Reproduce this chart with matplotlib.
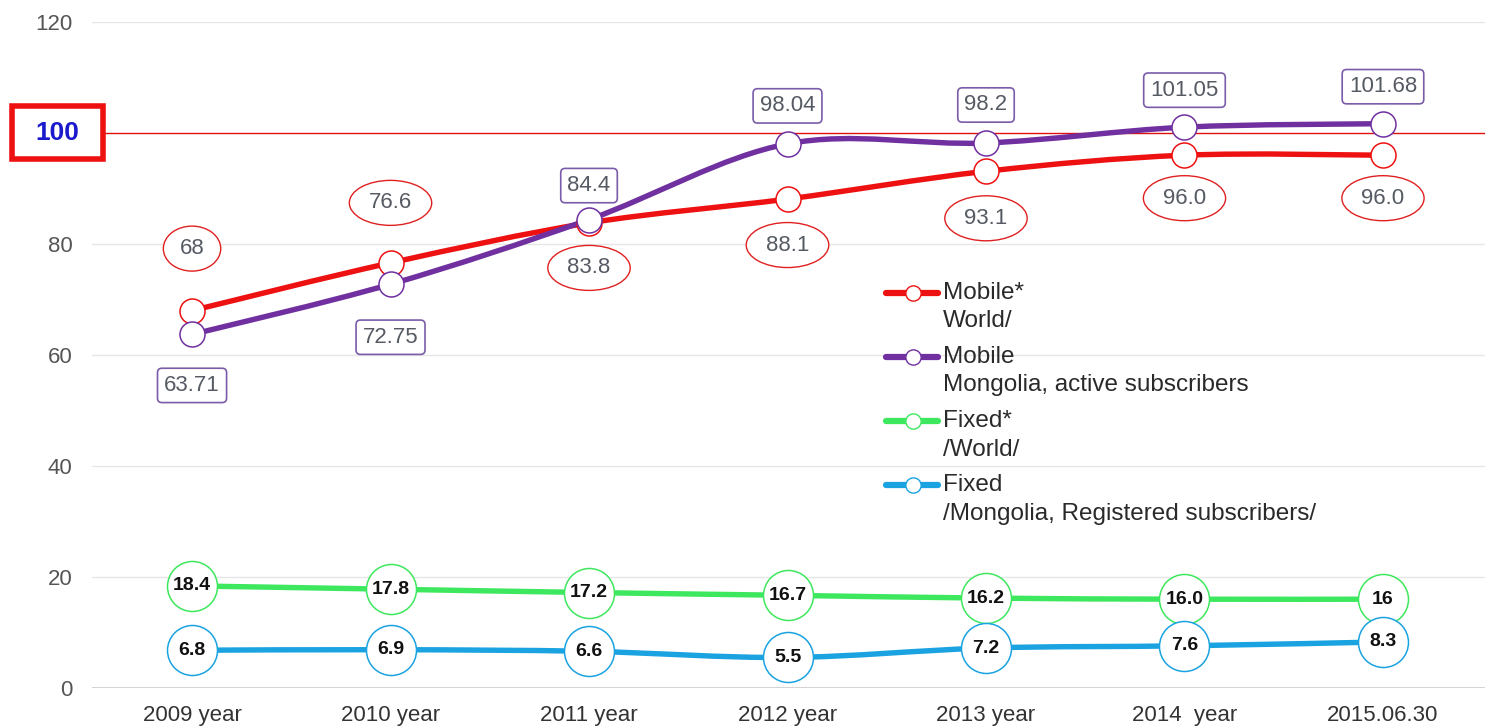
import matplotlib
matplotlib.use('Agg')
import matplotlib.pyplot as plt
import matplotlib.transforms as mtransforms
from matplotlib.path import Path
from matplotlib.patches import PathPatch, Rectangle, Ellipse
from matplotlib.lines import Line2D

plt.rcParams['font.family'] = ['Liberation Sans', 'DejaVu Sans']

# data
years = ['2009 year', '2010 year', '2011 year', '2012 year', '2013 year', '2014  year', '2015.06.30']
mobile_world = [68, 76.6, 83.8, 88.1, 93.1, 96.0, 96.0]
mobile_world_lbl = ['68', '76.6', '83.8', '88.1', '93.1', '96.0', '96.0']
mobile_mgl = [63.71, 72.75, 84.4, 98.04, 98.2, 101.05, 101.68]
mobile_mgl_lbl = ['63.71', '72.75', '84.4', '98.04', '98.2', '101.05', '101.68']
fixed_world = [18.4, 17.8, 17.2, 16.7, 16.2, 16.0, 16]
fixed_world_lbl = ['18.4', '17.8', '17.2', '16.7', '16.2', '16.0', '16']
fixed_mgl = [6.8, 6.9, 6.6, 5.5, 7.2, 7.6, 8.3]
fixed_mgl_lbl = ['6.8', '6.9', '6.6', '5.5', '7.2', '7.6', '8.3']

legend_lines = [('Mobile*', 'World/'),
                ('Mobile', 'Mongolia, active subscribers'),
                ('Fixed*', '/World/'),
                ('Fixed', '/Mongolia, Registered subscribers/')]

# label offsets in pixels (style, not data)
red_off = [62, 60, -45, -46, -47, -43, -43]
purple_off = [-51, -53, 34, 38, 38, 37, 37]

RED = '#ee1111'
PURPLE = '#7030a0'
GREEN = '#3ee85e'
BLUE = '#1aa3e0'
LBL = '#555a63'


def smooth_path(xs, ys, k=1 / 6.0):
    pts = list(zip(xs, ys))
    n = len(pts)
    verts = [pts[0]]
    codes = [Path.MOVETO]
    for i in range(n - 1):
        p0 = pts[max(i - 1, 0)]
        p1 = pts[i]
        p2 = pts[i + 1]
        p3 = pts[min(i + 2, n - 1)]
        c1 = (p1[0] + (p2[0] - p0[0]) * k, p1[1] + (p2[1] - p0[1]) * k)
        c2 = (p2[0] - (p3[0] - p1[0]) * k, p2[1] - (p3[1] - p1[1]) * k)
        verts += [c1, c2, p2]
        codes += [Path.CURVE4] * 3
    return Path(verts, codes)


fig = plt.figure(figsize=(14.86, 7.26), dpi=100)
ax = fig.add_axes([92 / 1486, 38 / 726, 1393 / 1486, 666 / 726])
x = list(range(len(years)))

ax.set_xlim(-0.504, 6.514)
ax.set_ylim(0, 120)
ax.set_yticks([0, 20, 40, 60, 80, 120])
ax.set_xticks(x)
ax.set_xticklabels(years)
ax.tick_params(axis='both', length=0, labelsize=16)
ax.tick_params(axis='y', pad=14, colors='#555555')
ax.tick_params(axis='x', pad=12.5, colors='#333333')
for s in ax.spines.values():
    s.set_visible(False)
for g in [20, 40, 60, 80, 120]:
    ax.axhline(g, color='#e6e6e6', lw=1, zorder=0)
ax.axhline(0, color='#cccccc', lw=1.2, zorder=0)
ax.axhline(100, color='#e01010', lw=1, zorder=1)

series = [(mobile_world, RED, 18), (mobile_mgl, PURPLE, 18),
          (fixed_world, GREEN, 36), (fixed_mgl, BLUE, 36)]
for vals, col, ms in series:
    ax.add_patch(PathPatch(smooth_path(x, vals), fill=False, edgecolor=col, lw=3.9,
                           capstyle='round', zorder=2))
    ax.plot(x, vals, ls='none', marker='o', ms=ms, mfc='white', mec=col, mew=1.1, zorder=3)

red_texts = []
for xi, v, t, o in zip(x, mobile_world, mobile_world_lbl, red_off):
    tx = ax.annotate(t, (xi, v), xytext=(0, o), textcoords='offset pixels', ha='center',
                     va='center', fontsize=16, color=LBL, zorder=6)
    red_texts.append((tx, xi, v, o))
for xi, v, t, o in zip(x, mobile_mgl, mobile_mgl_lbl, purple_off):
    ax.annotate(t, (xi, v), xytext=(0, o), textcoords='offset pixels', ha='center', va='center',
                fontsize=16, color=LBL, zorder=6,
                bbox=dict(boxstyle='round,pad=0.3,rounding_size=0.2', fc='white', ec='#7a5ca8', lw=1.2))
for vals, lbls in [(fixed_world, fixed_world_lbl), (fixed_mgl, fixed_mgl_lbl)]:
    for xi, v, t in zip(x, vals, lbls):
        ax.text(xi, v, t, ha='center', va='center', fontsize=14, fontweight='bold',
                color='#111111', zorder=4)

# ellipses around the red labels, sized from the rendered text
fig.canvas.draw()
for tx, xi, v, o in red_texts:
    w = tx.get_window_extent().width
    tr = mtransforms.Affine2D().translate(0, o) + mtransforms.ScaledTranslation(xi, v, ax.transData)
    e = Ellipse((0, 0), 1.35 * w + 24, 45, transform=tr, fc='white', ec='#e02020', lw=1, zorder=5)
    ax.add_artist(e)

# boxed 100 label
trans = mtransforms.blended_transform_factory(fig.transFigure, ax.transData)
fig.patches.append(Rectangle((12 / 1486, 95.3), 91 / 1486, 9.6, transform=trans,
                             fill=True, fc='white', ec='#ee1111', lw=4, zorder=5))
fig.text(57 / 1486, 100, '100', transform=trans, ha='center', va='center', fontsize=19,
         fontweight='bold', color='#1a1acc', zorder=6)

# legend
ytop = [0.5931, 0.4970, 0.4009, 0.3048]
step = 28.5 / 666
for (l1, l2), (vals, col, ms), yy in zip(legend_lines, series, ytop):
    ax.add_line(Line2D([0.5697, 0.6071], [yy, yy], transform=ax.transAxes, color=col, lw=4.5,
                       solid_capstyle='round', zorder=6))
    ax.add_line(Line2D([0.5894], [yy], transform=ax.transAxes, marker='o', ms=11, mfc='white',
                       mec=col, mew=1, zorder=7))
    ax.text(0.6110, yy, l1, transform=ax.transAxes, ha='left', va='center', fontsize=17.5,
            color='#2a2a2a')
    ax.text(0.6110, yy - step, l2, transform=ax.transAxes, ha='left', va='center', fontsize=17.5,
            color='#2a2a2a')

fig.savefig('out.png', dpi=100)
